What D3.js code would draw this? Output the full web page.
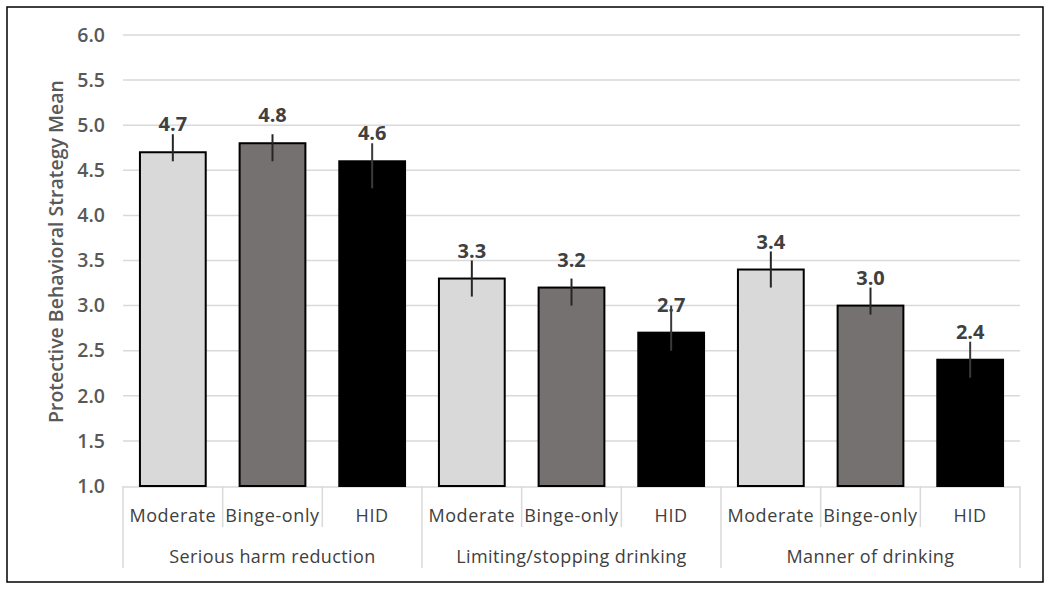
<!DOCTYPE html>
<html><head><meta charset="utf-8">
<script src="https://cdn.jsdelivr.net/npm/d3@7"></script>
<style>body{margin:0;background:#fff}svg{display:block}text{font-family:"Open Sans",sans-serif}</style>
</head><body><svg id="c" width="1050" height="591"></svg>
<script>
const groups = ["Serious harm reduction","Limiting/stopping drinking","Manner of drinking"];
const series = ["Moderate","Binge-only","HID"];
const seriesColors = ["#d9d9d9","#757171","#000000"];
const means = [[4.7,4.8,4.6],[3.3,3.2,2.7],[3.4,3.0,2.4]];
const errTop = [[4.9,4.9,4.8],[3.5,3.3,3.0],[3.6,3.2,2.6]];
const errBottom = [[4.6,4.6,4.3],[3.1,3.0,2.5],[3.2,2.9,2.2]];
const yTicks = [1.0,1.5,2.0,2.5,3.0,3.5,4.0,4.5,5.0,5.5,6.0];
const yTitle = "Protective Behavioral Strategy Mean";

(function(){
const svg = d3.select("#c");
svg.append("rect").attr("x",7).attr("y",7).attr("width",1036).attr("height",575)
  .attr("fill","#fff").attr("stroke","#000").attr("stroke-width",1.5);

const pL=123, pR=1020, pT=35, pB=486;
const y = d3.scaleLinear().domain([1,6]).range([pB,pT]);
const slots = [];
groups.forEach((g,gi)=>series.forEach((s,si)=>slots.push({g,gi,s,si,key:gi+"|"+si})));
const xs = d3.scaleBand().domain(slots.map(d=>d.key)).range([pL,pR]);
const bw = xs.bandwidth()*0.66;
const xc = d=>xs(d.key)+xs.bandwidth()/2;
const xg = d3.scaleBand().domain(groups).range([pL,pR]);

svg.append("g").selectAll("line").data(yTicks.slice(1)).join("line")
  .attr("x1",pL).attr("x2",pR).attr("y1",d=>y(d)).attr("y2",d=>y(d))
  .attr("stroke","#d9d9d9").attr("stroke-width",1.5);

const ya = svg.append("g").attr("transform",`translate(${pL},0)`)
  .call(d3.axisLeft(y).tickValues(yTicks).tickFormat(d3.format(".1f")).tickSize(0).tickPadding(18));
ya.select(".domain").remove();
ya.attr("font-size",null).attr("font-family",null);
ya.selectAll("text").style("font-size","19.5px").style("font-weight","600").attr("fill","#595959");

svg.append("text").attr("transform",`translate(63,${(77+426)/2}) rotate(-90)`)
  .attr("text-anchor","middle").style("font-size","19.5px").style("font-weight","600").attr("fill","#595959").text(yTitle);

const sep = svg.append("g").attr("stroke","#d9d9d9").attr("stroke-width",1.5);
sep.append("line").attr("x1",pL).attr("x2",pR).attr("y1",pB+1).attr("y2",pB+1);
slots.forEach(d=>{
  const xx = xs(d.key);
  sep.append("line").attr("x1",xx).attr("x2",xx).attr("y1",pB).attr("y2",d.si===0?568:527);
});
sep.append("line").attr("x1",pR).attr("x2",pR).attr("y1",pB).attr("y2",568);

svg.append("g").selectAll("text").data(slots).join("text")
  .attr("x",xc).attr("y",522).attr("text-anchor","middle")
  .style("font-size","18px").attr("letter-spacing",0.6).attr("fill","#404040").text(d=>d.s);
svg.append("g").selectAll("text").data(groups).join("text")
  .attr("x",d=>xg(d)+xg.bandwidth()/2).attr("y",563).attr("text-anchor","middle")
  .style("font-size","18px").attr("letter-spacing",0.4).attr("fill","#404040").text(d=>d);

svg.append("g").selectAll("rect").data(slots).join("rect")
  .attr("x",d=>xc(d)-bw/2).attr("width",bw)
  .attr("y",d=>y(means[d.gi][d.si])).attr("height",d=>pB-y(means[d.gi][d.si]))
  .attr("fill",d=>seriesColors[d.si]).attr("stroke","#000").attr("stroke-width",2);

svg.append("g").selectAll("line").data(slots).join("line")
  .attr("x1",xc).attr("x2",xc)
  .attr("y1",d=>y(errTop[d.gi][d.si])).attr("y2",d=>y(errBottom[d.gi][d.si]))
  .attr("stroke",d=>d.si===2?"#3a3a3a":"#262626").attr("stroke-width",2);

svg.append("g").selectAll("text").data(slots).join("text")
  .attr("x",xc).attr("y",d=>y(means[d.gi][d.si])-21)
  .attr("text-anchor","middle").style("font-size","20px").style("font-weight","700").attr("fill","#404040")
  .text(d=>d3.format(".1f")(means[d.gi][d.si]));
})();
</script></body></html>
